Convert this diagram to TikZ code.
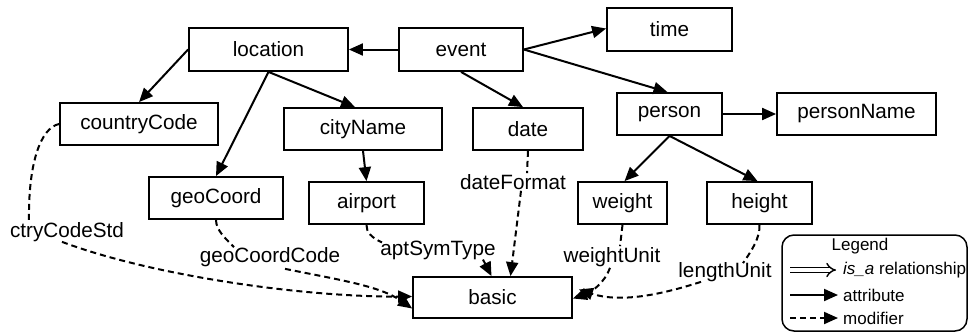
\documentclass[tikz,border=0pt]{standalone}
\usepackage{fontspec}
\setmainfont{Liberation Sans}
\usetikzlibrary{arrows.meta}
\begin{document}
\begin{tikzpicture}[x=1pt,y=-1pt,
  box/.style={draw, line width=1.8pt, inner sep=0pt, font=\fontsize{20.7}{24}\selectfont},
  lbl/.style={inner sep=1pt, font=\fontsize{20.7}{24}\selectfont},
  attr/.style={line width=2pt, -{Triangle[length=14pt,width=12pt]}},
  modf/.style={line width=2pt, dash pattern=on 6pt off 4pt, -{Triangle[length=14pt,width=12pt]}},
  modl/.style={line width=2pt, dash pattern=on 6pt off 4pt},
  legtxt/.style={inner sep=0pt, anchor=west, font=\fontsize{17}{20}\selectfont}]
\useasboundingbox (0,0) rectangle (969,333);
% boxes
\node[box, minimum width=159pt, minimum height=43pt] (location) at (268.5,49.5) {location};
\node[box, minimum width=124pt, minimum height=43pt] (event) at (461,49.5) {event};
\node[box, minimum width=125pt, minimum height=43pt] (time) at (669.5,29.5) {time};
\node[box, minimum width=158pt, minimum height=42pt] (cc) at (139,124) {countryCode};
\node[box, minimum width=158pt, minimum height=42pt] (city) at (363,129) {cityName};
\node[box, minimum width=110pt, minimum height=42pt] (date) at (528,129) {date};
\node[box, minimum width=105pt, minimum height=42pt] (person) at (669.5,114) {person};
\node[box, minimum width=159pt, minimum height=42pt] (pname) at (856.5,114) {personName};
\node[box, minimum width=134pt, minimum height=42pt] (geo) at (216,198) {geoCoord};
\node[box, minimum width=115pt, minimum height=42pt] (airport) at (366.5,203) {airport};
\node[box, minimum width=159pt, minimum height=41pt] (basic) at (492.5,297.5) {basic};
\node[box, minimum width=89pt, minimum height=42pt] (weight) at (622.5,203) {weight};
\node[box, minimum width=105pt, minimum height=42pt] (height) at (759.5,203) {height};
% modifier labels
\node[lbl] (dfmt) at (513,182) {dateFormat};
\node[lbl] (ccstd) at (67,232) {ctryCodeStd};
\node[lbl] (gcc) at (270,257) {geoCoordCode};
\node[lbl] (apt) at (438,250) {aptSymType};
\node[lbl] (wu) at (612,257) {weightUnit};
\node[lbl] (lu) at (725,272) {lengthUnit};
% attribute arrows
\draw[attr] (event.west) -- (location.east);
\draw[attr] (location.west) -- (cc.north);
\draw[attr] (location.south) -- (geo.north);
\draw[attr] (location.south) -- ([xshift=-8pt]city.north);
\draw[attr] (city.south) -- (airport.north);
\draw[attr] (event.south) -- ([xshift=-5pt]date.north);
\draw[attr] (event.east) -- ([yshift=1pt]time.west);
\draw[attr] (event.east) -- ([xshift=-2pt]person.north);
\draw[attr] (person.east) -- (pname.west);
\draw[attr] (person.south) -- ([xshift=2pt]weight.north);
\draw[attr] (person.south) -- ([xshift=-2pt]height.north);
% modifier arrows
\draw[modl] (cc.west) .. controls (40,128) and (28,165) .. ([xshift=-38pt,yshift=-1pt]ccstd.north);
\draw[modf] ([xshift=-5pt,yshift=1pt]ccstd.south) .. controls (150,275) and (300,297) .. ([yshift=1pt]basic.west);
\draw[modl] (geo.south) .. controls (216,230) and (225,238) .. ([xshift=-36pt,yshift=-1pt]gcc.north);
\draw[modf] ([xshift=15pt,yshift=-1pt]gcc.south) .. controls (340,280) and (380,286) .. ([yshift=-11pt]basic.west);
\draw[modl] (airport.south) .. controls (366,232) and (372,238) .. ([xshift=-56pt,yshift=-3pt]apt.north);
\draw[modf] ([xshift=45pt,yshift=1pt]apt.south) -- ([xshift=-1pt]basic.north);
\draw[modl] (date.south) -- ([xshift=14pt]dfmt.north);
\draw[modf] ([xshift=8pt]dfmt.south) -- ([xshift=18pt]basic.north);
\draw[modl] (weight.south) -- ([xshift=8pt]wu.north);
\draw[modf] ([xshift=-2pt]wu.south) .. controls (605,282) and (592,292) .. ([yshift=-1pt]basic.east);
\draw[modl] (height.south) .. controls (760,238) and (752,250) .. ([xshift=18pt,yshift=-2pt]lu.north);
\draw[modf] ([xshift=-24pt,yshift=1pt]lu.south) .. controls (660,295) and (620,303) .. ([xshift=6pt,yshift=8pt]basic.east);
% legend
\node[draw, line width=1.5pt, rounded corners=12pt, minimum width=185pt, minimum height=96pt, inner sep=0pt] (legend) at (874.5,283) {};
\node[inner sep=0pt, font=\fontsize{17}{20}\selectfont] (legtitle) at (860,246) {Legend};
\coordinate (l1a) at (790,270); \coordinate (l1b) at (836,270);
\coordinate (l2a) at (790,295); \coordinate (l2b) at (838,295);
\coordinate (l3a) at (790,318); \coordinate (l3b) at (838,318);
\draw[line width=1.4pt, double, double distance=3.5pt, -{Implies}] (l1a) -- (l1b);
\draw[attr] (l2a) -- (l2b);
\draw[modf] (l3a) -- (l3b);
\node[legtxt] (t1) at (843,270) {\textit{is\_a} relationship};
\node[legtxt] (t2) at (843,295) {attribute};
\node[legtxt] (t3) at (843,318) {modifier};
\end{tikzpicture}
\end{document}
